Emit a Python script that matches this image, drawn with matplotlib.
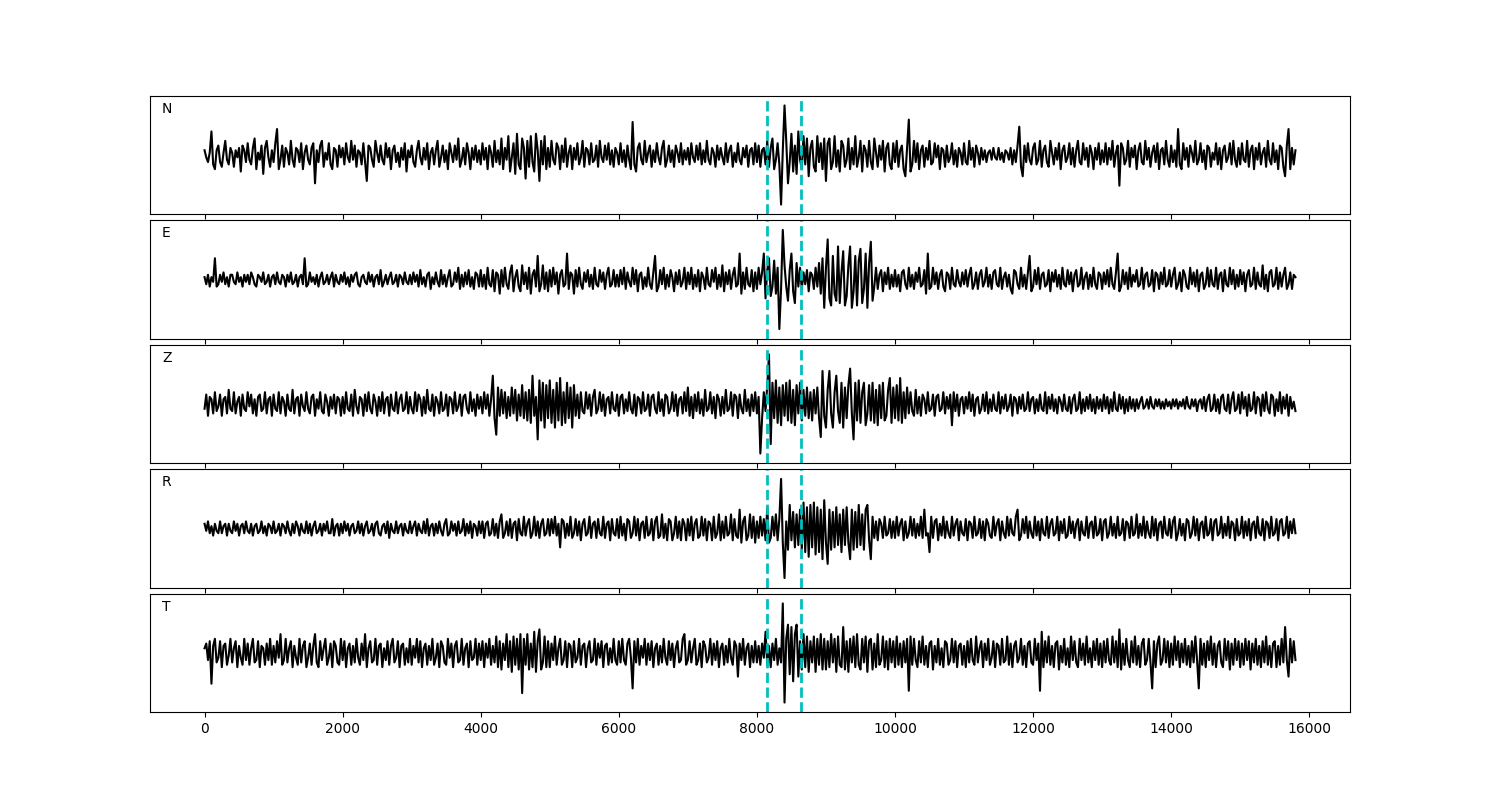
"""Five-component seismogram with two picked phase markers."""

import matplotlib
matplotlib.use("Agg")
import matplotlib.pyplot as plt
import numpy as np

DT = 25  # sample spacing of the read-off traces
PICKS = [8150, 8645]  # dashed marker positions
COMPONENTS = ["N", "E", "Z", "R", "T"]

# one line = 1000 time units (40 samples), last line runs to 15800
trace_n = [
    2, -1, -3, 1, 10, -4, -6, 2, 4, -3, -5, 1, 6, -2, -4, 3, 1, -5, 2, -1, 3, -7, 4, 2, -3, 5, -2, -4, 3, 7, -6, 1, -2, 4, -8, 3, 6, -1, -5, 2,
    -3, 5, 11, -6, -2, 4, -5, 3, 1, -4, 6, -2, -5, 3, 2, -3, 5, -6, 1, 4, -2, -4, 3, 5, -12, 2, -3, 4, 6, -5, 1, -2, 5, -4, -6, 3, 2, -5, 4, -1,
    3, -4, 5, -1, -3, 6, -2, 4, -5, 2, 1, -4, 5, -3, -11, 4, 3, -2, -5, 6, 1, -3, 4, -2, -4, 5, -1, 3, -6, 2, 4, -3, 1, -5, 3, -2, 5, -7, 2, -1,
    4, -3, -5, 2, 6, -1, -4, 3, -2, 5, -6, 1, 3, -4, 2, 6, -5, -1, 4, -3, 2, -6, 5, 1, -3, 4, -2, 7, -5, -2, 3, -4, 5, 1, -6, 3, -2, 4, -3, 2,
    -4, 5, -2, 3, -6, 4, 1, -5, 6, -3, 2, -4, 7, -6, 3, -2, 8, -7, -1, 5, -8, 9, -4, -6, 7, 3, -10, 6, -5, 8, -3, -7, 9, 2, -11, 6, -4, 8, -6, 3,
    -5, 6, -2, -4, 5, 3, -6, 4, -3, 7, -5, 1, 4, -6, 3, -2, 5, -4, -1, 6, -5, 3, 2, -4, 5, -3, -2, 4, -5, 6, -1, -3, 4, -2, 5, -4, 2, -5, 3, 1,
    -4, 5, -3, 2, -5, 4, -2, -6, 14, -4, -7, 3, 5, -2, -4, 6, -3, 1, 4, -5, 2, -3, 5, -1, -4, 3, 6, -5, -2, 4, -3, 2, -5, 4, 1, -3, 5, -4, 2, -2,
    3, -4, 5, -1, -3, 4, -2, 5, -4, 2, -3, 6, -2, -4, 3, 1, -5, 4, -2, 3, -1, -4, 5, -3, 2, 4, -5, 1, -3, 5, -2, -4, 3, -1, 4, -5, 2, 3, -4, 5,
    -3, 4, -5, 2, 3, -4, 6, -5, 3, 7, -6, -2, 5, -4, -21, 2, 21, 6, -12, -3, 9, -7, 4, -8, 10, -2, -6, 8, -4, 7, -9, 3, 6, -5, -7, 8, -3, 5, -6, 7,
    -11, 5, 7, -6, -3, 8, -5, 2, -7, 6, 4, -5, -2, 7, -6, 3, -4, 8, -5, -1, 6, -7, 4, 2, -5, 6, -3, -6, 7, 1, -5, 4, -2, 6, -7, 3, 5, -4, -6, 5,
    -3, 6, -5, 2, 4, -6, -9, 3, 15, -7, -4, 6, -3, 5, -6, 2, 4, -5, 3, -2, 6, -4, -3, 5, -1, 4, -6, 3, 2, -5, 4, -3, -1, 5, -4, 2, -5, 3, 1, -4,
    5, -3, -4, 6, -2, 3, -5, 4, 1, -4, 3, -2, 2, -3, 1, 2, -2, 3, -1, -2, 3, -2, 1, -3, 2, 1, -2, 3, -4, 2, -3, 4, 12, -5, -9, 4, -3, 5, -2, -4,
    3, 5, -4, -2, 6, -5, 2, 4, -3, -5, 6, 1, -4, 3, -2, 5, -6, 2, 4, -3, -1, 5, -4, 3, -5, 2, 6, -3, -4, 5, -2, 3, -5, 4, 1, -6, 3, -2, 5, -4,
    2, -3, 5, -4, 3, -2, 6, -5, 1, 4, -13, 5, 3, -4, -2, 6, -5, 3, -1, 4, -6, 2, 5, -3, -4, 6, -2, 3, -5, 1, 4, -3, 5, -6, 2, 3, -4, 6, -2, -5,
    4, -3, 2, -5, 11, -4, -6, 5, -2, 3, -5, 4, 1, -3, 6, -4, -2, 5, -3, 2, -6, 4, 3, -5, 1, -2, 5, -4, 3, -6, 2, 4, -3, -1, 5, -4, 6, -2, -5, 3,
    -4, 5, -2, -3, 6, -5, 2, 4, -6, 3, -2, 5, -4, 1, 3, -5, 6, -2, -4, 5, -3, 2, -6, 4, 3, -5, -9, 4, 11, -6, 3, -4, 2,
]

trace_e = [
    1, -2, 2, -3, 1, -1, 9, -3, -2, 2, -1, 3, -2, 1, -3, 2, 2, -1, -2, 3, -1, 1, -3, 2, -1, 2, -2, 3, 1, -2, -3, 2, 1, -1, 3, -2, -1, 2, -3, 1,
    2, -2, 3, -1, -2, 2, 1, -3, 2, -1, 3, -2, -1, 2, -3, 1, 2, -2, 9, -3, -2, 3, -1, 1, -2, 2, -3, 1, 3, -2, -1, 2, -2, 1, 3, -3, 2, -1, -2, 2,
    -1, 3, -2, 1, -3, 2, -1, 2, 3, -2, -3, 1, 2, -1, -2, 3, -1, 2, -3, 1, 2, -2, 4, -3, -1, 2, -2, 1, 3, -2, -1, 2, -3, 2, 1, -2, 3, -1, -2, 2,
    -2, 3, -1, 2, -3, 4, -2, 1, -3, 2, 3, -4, 1, -2, 3, -1, -3, 4, -2, 2, -3, 1, 4, -3, -2, 3, -1, 5, -4, 2, -3, 3, -2, 4, -3, 1, -4, 3, 2, -3,
    4, -3, 2, -4, 5, -2, -3, 4, -5, 3, 2, -6, 4, -3, 5, -2, -4, 3, 6, -5, 1, 4, -3, -5, 6, -2, 3, -4, 5, -6, 2, 4, -3, 10, -5, -2, 6, -4, 3, -5,
    4, -3, 5, -2, 3, -6, 2, 4, -3, -2, 11, -4, 3, 2, -6, 4, -3, 5, -2, -4, 3, -1, 4, -3, 2, -4, 5, -2, -3, 4, -1, 3, -4, 2, 5, -3, -2, 4, -3, 2,
    -3, 4, -2, 5, -4, 3, -1, -3, 5, -2, 4, -5, 2, 3, -4, 1, -3, 5, -2, -4, 3, 10, -5, -3, 4, -2, 5, -4, 2, -3, 4, 1, -5, 3, -2, 4, -3, -1, 5, -4,
    3, -2, 5, -4, 2, -3, 4, -5, 3, 1, -4, 5, -2, -3, 4, -1, 5, -4, 2, -3, 6, -5, 3, -2, 4, -4, 2, 5, -3, -2, 11, -6, 3, -4, 5, -2, -3, 4, -5, 3,
    -4, 5, -2, 3, 11, -8, 4, 9, -7, -3, 8, -6, 5, -21, -4, 21, 6, -3, -9, 4, 11, -5, -10, 7, -3, 5, -4, 3, -2, 4, -5, 3, 2, -4, 5, -3, 7, -6, 9, -12,
    5, 17, -8, -11, 10, -6, -9, 14, -10, 3, 12, -11, -7, 6, 14, -12, -5, 10, -11, 8, 13, -10, -4, 11, -12, 7, 16, -9, -3, 5, -4, 2, 4, -5, 3, -2, 5, -4, 2, -3,
    4, -3, 2, -5, 3, 4, -2, -4, 5, -3, 2, -4, 3, -1, 5, -3, -2, 4, -6, 11, -4, -3, 5, -2, 3, -4, 2, 4, -3, -5, 3, 2, -4, 5, -2, -3, 4, -1, -3, 3,
    -2, 4, -3, 2, 5, -4, -2, 3, -4, 2, 4, -3, -1, 5, -3, 2, -4, 3, 4, -2, -3, 5, -4, 1, 3, -3, 2, -4, -6, 4, 3, -2, -4, 5, -3, 2, -4, 3, 10, -5,
    -3, 4, -2, 5, -4, 2, 3, -3, -2, 4, -5, 3, -1, 4, -3, 2, -4, 5, -2, -3, 4, -2, 3, -5, 2, 4, -3, -2, 5, -4, 1, 3, -4, 2, -3, 5, -2, -4, 3, 2,
    -4, 3, -2, 4, -3, 5, -2, -4, 3, 11, -5, -3, 4, -2, 3, -4, 5, -3, 2, -1, 4, -3, -2, 5, -4, 2, 3, -3, -2, 4, -5, 3, 2, -4, 3, -2, 5, -3, -2, 4,
    -3, 2, 5, -4, -2, 3, -5, 4, 2, -3, -4, 5, -2, 3, -3, 4, -5, 2, 3, -4, -2, 5, -3, 4, -2, -3, 5, -4, 2, 3, -5, 4, -2, -3, 5, -2, 4, -4, 2, -3,
    4, -2, 3, -5, 2, 4, -3, -2, 5, -4, 3, -2, -3, 6, -4, 2, -5, 3, 4, -3, -2, 5, -4, 3, -3, 2, 5, -4, -2, 3, -4, 2, 1,
]

trace_z = [
    -2, 4, -5, 3, 2, -4, 5, -3, -1, 4, -5, 2, 3, -4, 6, -2, -3, 5, -4, 1, 3, -5, 4, -2, -3, 5, -1, 4, -4, 2, -5, 3, 4, -3, -2, 5, -4, 2, 3, -5,
    4, -2, -3, 5, -4, 3, 1, -5, 4, -2, -3, 6, -4, 2, 3, -5, 4, -1, -3, 5, -2, -4, 3, 4, -5, 2, -2, 5, -3, -4, 4, 1, -5, 3, -2, 4, -4, 3, 2, -5,
    3, -4, 5, -2, -3, 4, -5, 6, -1, -4, 3, 2, -5, 4, -3, 5, -2, -4, 4, 1, -5, 3, -3, 5, -4, 2, 3, -5, 4, -2, -3, 5, -4, 2, 4, -3, -2, 5, -4, 3,
    -2, -4, 5, -3, 4, 2, -5, 3, -4, 6, -2, -3, 4, -5, 3, 1, -4, 5, -3, -2, 4, -5, 3, 2, -4, 5, -3, -1, 4, -5, 3, 4, -2, -4, 5, -3, 2, -5, 4, -2,
    3, -4, 5, -2, 4, -5, 2, 12, -6, -13, 7, -5, 6, -4, 5, -6, 3, -5, 7, -4, 6, -7, 4, -5, 8, -6, 5, -7, 6, -8, 12, -5, 3, -15, 10, -7, 9, -10, 8, -6,
    10, -8, 6, -10, 9, -7, 11, -9, 5, -8, 9, -6, 7, -10, 8, -5, 4, -6, 5, -3, -4, 5, -2, 4, -5, 3, 6, -4, -2, 5, -3, 4, -5, 2, 3, -4, 5, -2, -3, 4,
    -5, 3, 4, -4, 2, -3, 5, -2, -4, 4, -5, 3, 2, -4, 5, -3, -2, 4, -5, 3, 4, -2, -4, 5, -3, 2, -5, 4, 3, -4, -2, 5, -3, 4, -5, 2, 3, -4, 5, -3,
    7, -5, 3, -6, 4, -3, 5, -4, 2, -5, 6, -3, -2, 5, -4, 3, -6, 4, 2, -5, 3, -4, 6, -3, -2, 5, -5, 4, 3, -6, 4, -2, -4, 6, -3, 2, -5, 4, -3, 5,
    -4, 3, -21, -6, 5, -3, 8, 21, -17, 9, -6, 10, -8, 7, -9, 8, -5, 9, -7, 10, -8, 6, -9, 8, -4, 9, -7, 6, -5, 7, -6, 5, -7, 6, -4, 7, -6, -14, 14, -5,
    -10, 6, 14, -4, -10, 5, 12, -3, -8, 9, -10, 7, -6, 8, 15, -4, -15, 9, -7, 10, -8, 5, 9, -9, -4, 8, -7, 9, -8, 6, -9, 8, -6, 9, -7, -5, 6, 11, -8, 7,
    -6, 8, -7, 11, -8, 5, -6, 7, -4, 5, -3, -5, 6, -4, 3, -5, 4, 2, -4, 5, -3, -2, 4, -5, 3, 4, -3, -2, 5, -4, 3, -2, 4, -9, 5, -3, 4, -5, 2, 3,
    -4, 3, -2, 5, -3, 4, -5, 2, 3, -4, -2, 4, -3, 5, -4, 2, -3, 4, -2, -3, 5, -4, 3, -2, 4, -3, -1, 4, -5, 3, 2, -4, 3, -2, 4, -3, -2, 5, -3, 2,
    3, -4, 2, -3, 4, -2, -3, 5, -4, 3, -2, 4, -3, 2, -4, 3, 1, -3, 4, -2, -3, 3, -4, 2, 4, -3, -2, 5, -4, 2, -3, 3, -2, 4, -3, 2, -4, 3, -2, 2,
    -3, 4, -2, 3, -4, 2, -3, 5, -2, -3, 4, -2, 3, -4, 2, -3, 3, -2, 2, -3, 2, -2, 1, 3, -2, -1, 2, -2, 3, -1, -2, 2, -1, 2, -2, 1, -2, 2, -1, 1,
    -2, 2, -1, 2, -2, 1, -1, 2, -2, 3, -1, -2, 2, -1, 2, -3, 1, 2, -2, 3, -3, 2, 4, -3, -2, 4, -3, 2, -4, 3, 4, -2, -3, 4, -4, 2, 5, -3, -2, 4,
    -4, 5, -2, 3, -5, 4, -3, -2, 5, -4, 3, 2, -5, 4, -3, 5, -2, -4, 4, 3, -5, 2, -3, 5, -4, 3, -2, 4, -5, 3, -2, 1, -3,
]

trace_r = [
    2, -1, 3, -2, 1, -3, 2, -1, -2, 3, -2, 1, 2, -3, 2, -1, -2, 3, -1, 2, -3, 1, 2, -2, 3, -1, -2, 2, -3, 1, 2, -2, -1, 3, -2, 1, -3, 2, 1, -2,
    3, -2, -1, 2, -3, 2, 1, -2, 3, -1, -3, 2, -2, 3, 1, -3, 2, -1, -2, 3, -2, 2, -3, 1, 3, -2, -1, 2, -3, 2, -1, 3, -2, -2, 4, -3, 1, 2, -3, 2,
    -2, 3, -1, 2, -3, 1, 2, -2, -1, 3, -2, 2, -3, 1, 3, -2, -1, 2, -3, 2, 3, -2, -3, 1, 2, -2, 3, -4, 2, -1, -2, 3, -2, 1, 2, -3, 2, -1, -2, 3,
    -2, 1, 3, -3, 2, -1, -2, 3, -2, 4, -3, 1, 2, -3, 2, -2, 3, -1, -3, 2, 4, -3, -2, 3, -1, 2, -3, 3, -2, -1, 4, -3, 2, -2, 3, -4, 2, 1, -3, 3,
    -2, 3, -4, 2, 3, -3, -2, 4, -3, 2, -4, 3, 6, -4, -2, 3, -3, 4, -4, 2, 3, -5, 4, -2, -3, 5, -3, 2, 4, -4, -2, 5, -3, 3, -4, 2, 4, -3, -2, 4,
    -3, 4, -2, 5, -3, 2, -8, 4, 3, -4, 2, -3, 5, -4, -2, 4, -3, 3, -5, 2, 4, -3, -2, 5, -4, 2, 3, -4, 4, -2, -3, 5, -4, 2, 3, -5, 4, -2, -3, 4,
    -4, 5, -3, 2, -5, 4, 3, -4, -2, 5, -3, 4, -5, 2, 3, -4, 5, -3, -2, 4, -5, 3, 5, -4, -3, 6, -4, 2, -5, 4, 3, -5, -2, 5, -4, 3, -5, 4, 2, -5,
    4, -3, 5, -5, 2, 4, -4, -3, 5, -3, 4, -5, 3, 2, -5, 5, -4, -2, 6, -5, 3, -4, 5, -3, -2, 6, -5, 4, -3, -4, 8, -6, 3, 5, -5, -3, 6, -4, 5, -6,
    3, -4, 5, -3, 4, -5, 9, -6, -4, 5, -3, 6, -5, 4, 21, -6, -21, 3, -9, 10, -5, 7, -8, 6, -7, 8, -9, 11, -10, 9, -12, 10, -8, 11, -11, 9, -10, 8, -13, 12,
    -6, -15, 8, -9, 7, -8, 9, -7, 6, -10, 8, -7, 9, -6, -13, 8, -9, 7, -8, 10, -7, 6, -9, 8, 10, -5, -13, 5, -4, 3, -5, 4, 2, -4, 5, -3, -2, 4, -4, 3,
    -4, 5, -3, 2, 4, -5, 3, -4, -2, 5, -3, 4, -4, 2, -3, 5, -4, 8, -3, -2, -10, 5, -4, 3, 4, -5, 2, -3, 5, -4, 3, -2, -4, 5, -3, 2, 4, -5, 3, -2,
    -3, 4, -5, 3, 2, -4, 5, -3, -2, 4, -4, 3, -5, 4, 2, -3, -4, 5, -3, 2, 4, -5, 3, -2, -4, 5, -3, 4, -2, -3, 5, 8, -5, -3, 4, -2, 5, -4, 3, -2,
    -4, 5, -3, 3, -5, 4, -2, -3, 5, -4, 2, 4, -3, -2, 5, -5, 3, -2, 4, -4, -3, 5, -2, 3, -4, 2, 4, -5, 3, -2, -3, 5, -4, 2, 3, -4, 5, -3, -2, 4,
    -5, 3, 4, -4, -2, 5, -3, 2, -4, 5, -3, -2, 4, -5, 3, 2, -4, 5, -3, -2, 6, -4, 2, -3, 5, -4, 3, -2, -4, 5, -3, 4, -5, 2, 3, -4, 5, -2, -3, 4,
    -4, 3, 5, -5, -2, 4, -3, 2, -5, 4, 3, -4, -2, 5, -3, 4, -5, 2, 3, -4, 5, -3, -2, 4, -5, 3, 4, -3, -2, 5, -4, 2, -3, 5, -4, 3, 2, -5, 4, -3,
    -2, 5, -4, 3, -3, 4, -5, 2, 3, -4, 5, -2, -3, 4, -5, 3, 2, -4, 5, -3, -2, 4, -5, 3, 4, -3, -2, 5, -4, 3, -2, 4, -2,
]

trace_t = [
    2, 4, -3, 5, -13, 3, 6, -4, -2, 5, -6, 3, 4, -5, -1, 6, -4, 2, 5, -6, 3, -2, -5, 6, -3, 4, -5, 2, 6, -4, -3, 5, -6, 3, 2, -5, 4, -3, 6, -5,
    3, -4, 5, -2, 8, -5, -3, 6, -4, 2, 5, -6, 3, -2, -5, 6, -4, 3, 5, -6, -2, 4, -5, 3, 8, -4, -6, 5, -3, 2, 6, -5, -2, 4, -6, 5, 3, -4, -5, 6,
    -3, 5, -6, 2, 4, -5, 3, -4, 6, -2, -5, 4, -3, 8, -6, 2, 5, -4, -3, 6, -5, 3, 4, -6, 2, -3, 5, -5, 3, 6, -4, -2, 5, -6, 3, 4, -5, 2, -4, 6,
    -5, 3, -2, 6, -4, 5, -6, 2, 4, -5, 3, -3, 6, -5, -2, 4, -6, 5, 3, -4, -5, 6, -2, 4, -6, 3, 5, -4, -3, 6, -5, 2, 4, -6, 5, -3, -2, 6, -5, 4,
    -3, 5, -6, 4, -2, 6, -5, 3, -4, 7, -6, 5, -7, 4, -3, 8, -6, 5, -8, 7, -5, 6, -7, 8, -17, 6, -5, 8, -7, 4, -6, 9, -8, 5, 10, -7, -4, 7, -6, 5,
    -6, 4, -3, 7, -5, 2, 6, -5, -3, 5, -6, 4, 3, -6, 5, -4, -2, 6, -5, 3, 4, -6, 2, 5, -4, -3, 6, -5, 4, -2, 5, -6, 3, 4, -5, 2, -4, 6, -3, -5,
    5, -4, 6, -3, -5, 4, 6, -2, -15, 5, -4, 6, -5, 3, -2, 6, -5, 4, -3, 5, -6, 2, 4, -5, 3, -4, 6, -2, -5, 5, -3, 4, -6, 2, 5, -4, -3, 6, 8, -5,
    -3, 5, -4, 2, 6, -5, -3, 4, -6, 5, 3, -4, -2, 6, -5, 4, -3, 5, -6, 2, 4, -5, 3, -4, 6, -2, -5, 5, 3, -10, 4, -3, 6, -5, 2, 4, -6, 3, -4, 5,
    -4, 3, -5, 4, -2, 9, -5, 3, -6, 4, -3, 6, -5, 2, -4, 21, -21, 6, 12, -9, 11, -12, 8, 12, -10, 5, -7, 8, -6, 7, -8, 5, -4, 7, -8, 6, -5, 8, -7, 6,
    -7, 5, -6, 8, -4, 6, -8, 7, -5, -6, 11, -7, 5, -8, 6, -4, 7, -6, 8, -5, -7, 6, -4, 7, -8, 5, 6, -7, 4, -6, 8, -5, -3, 7, -6, 5, -7, 6, -4, 5,
    -6, 7, -5, 4, -6, 5, -4, 6, -16, 7, -5, 6, -3, -6, 5, -4, 7, -5, 3, -6, 4, 5, -7, 3, -4, 6, -5, 2, -6, 5, 4, -5, -3, 6, -4, 5, -6, 3, 4, -5,
    3, -6, 5, -4, 6, -3, -5, 7, -4, 2, 5, -6, 4, -3, 6, -5, -2, 5, -6, 4, 3, -5, 6, -4, -3, 7, -5, 4, -6, 3, 5, -4, -2, 6, -5, 3, -6, 4, 5, -4,
    -5, 6, -3, 4, -16, 9, -6, 5, -4, 7, -5, 3, -6, 4, 5, -7, 3, -4, 6, -5, 2, -6, 7, -3, 5, -4, -6, 6, -3, 4, -5, 7, -4, 2, -6, 5, -3, 6, -5, 4,
    -6, 5, -4, 6, -3, -5, 7, -4, 5, -6, 10, -7, 4, -5, 6, -3, -6, 5, -4, 7, -5, 3, -6, 4, 6, -5, -3, 6, -4, -15, 5, -6, 4, 7, -5, -3, 6, -4, 5, -6,
    4, -5, 7, -3, 5, -6, 4, -4, 6, -5, 3, -6, 5, -4, 7, -3, -15, 6, -5, 4, -6, 5, -3, 7, -5, 4, -6, 3, 5, -4, -6, 6, -3, 5, -7, 4, -5, 6, -3, 5,
    -6, 4, -5, 6, -3, 5, -7, 4, -4, 6, -5, 3, -6, 5, -4, 7, -5, 3, -6, 4, 5, -6, 3, -5, 6, -4, 11, -3, -10, 6, -4, 5, -3,
]

traces = [trace_n, trace_e, trace_z, trace_r, trace_t]

fig, axes = plt.subplots(5, 1, figsize=(15, 8), dpi=100, sharex=True)
fig.subplots_adjust(left=0.1, right=0.9, top=0.88, bottom=0.11, hspace=0.055)

for ax, name, tr in zip(axes, COMPONENTS, traces):
    t = np.arange(len(tr)) * DT
    ax.plot(t, tr, color="k", lw=1.5)
    for p in PICKS:
        ax.axvline(p, color="c", ls="--", lw=2)
    ax.set_ylim(-25, 25)
    ax.set_yticks([])
    ax.text(0.01, 0.95, name, transform=ax.transAxes, ha="left", va="top")

plt.savefig("out.png")
